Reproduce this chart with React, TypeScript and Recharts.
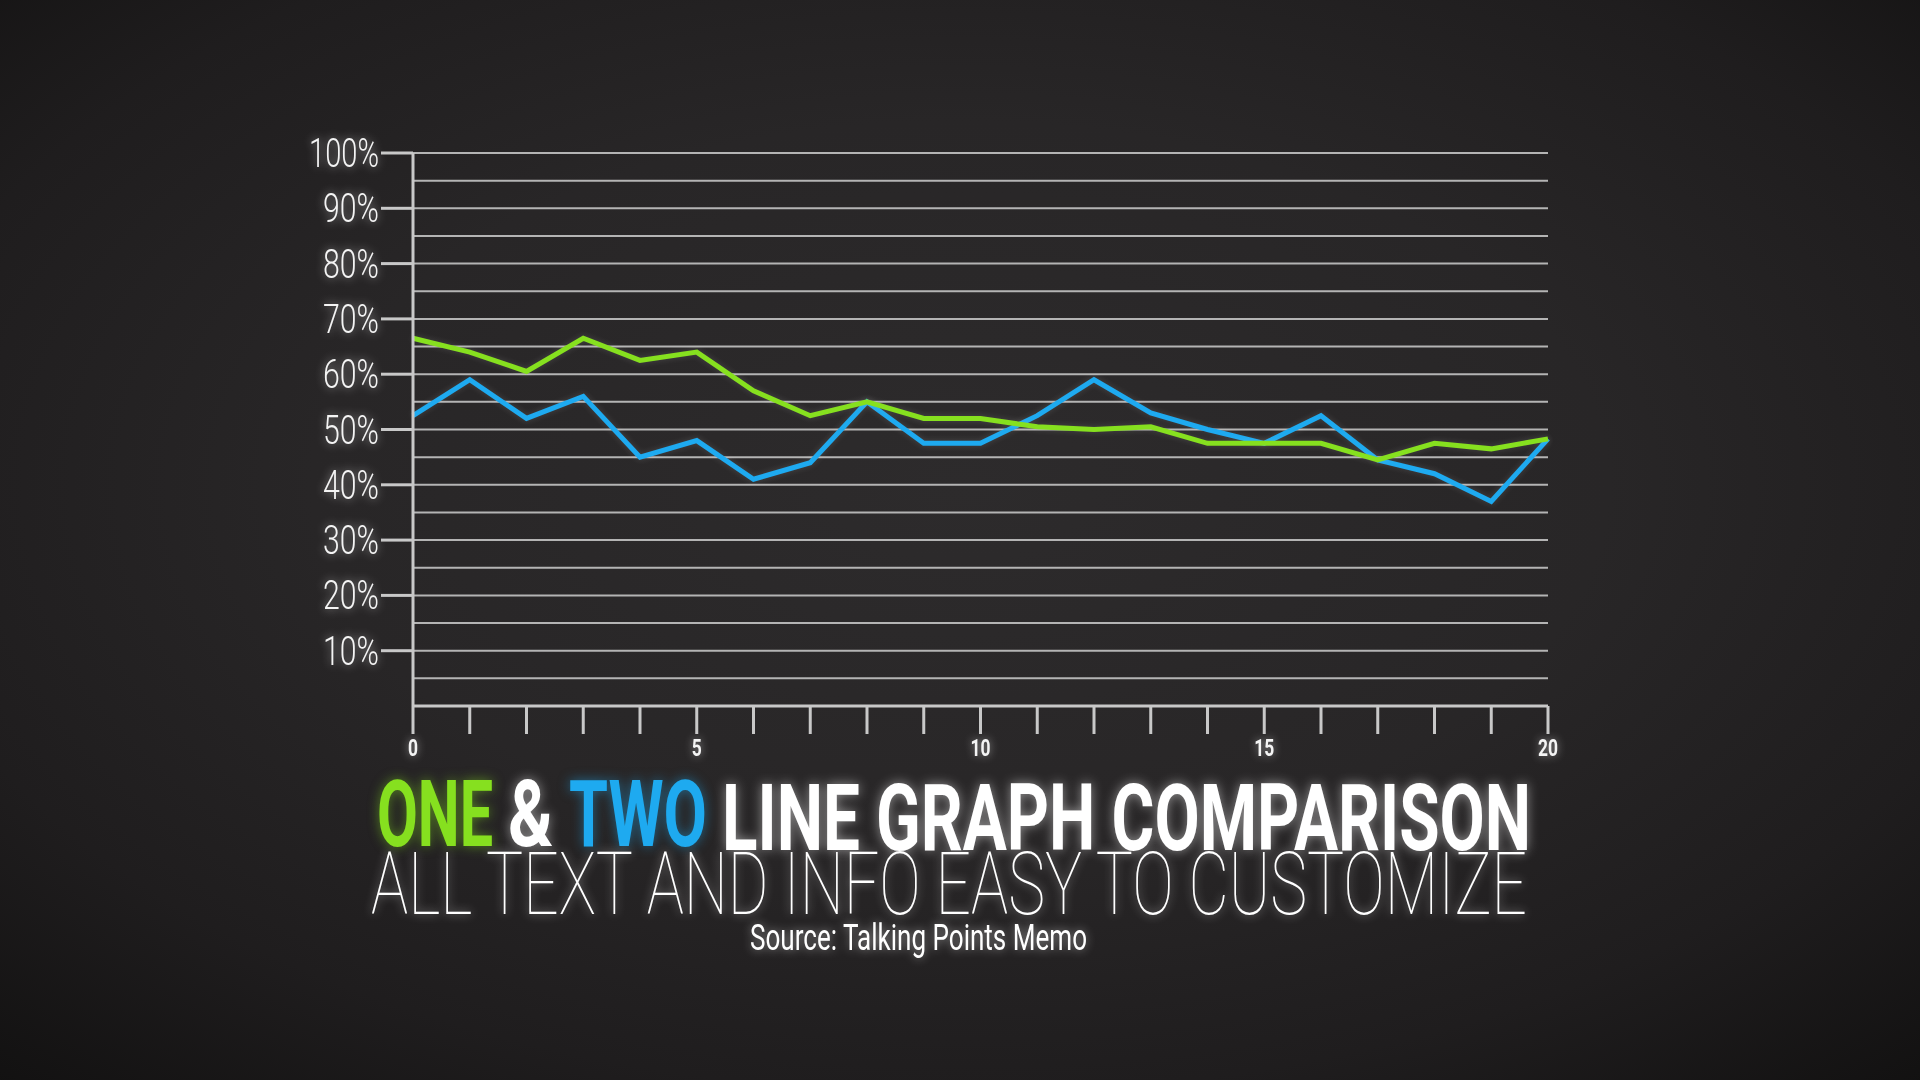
import React from 'react';
import { LineChart, Line, XAxis, YAxis, ReferenceLine } from 'recharts';

const xValues = [0, 1, 2, 3, 4, 5, 6, 7, 8, 9, 10, 11, 12, 13, 14, 15, 16, 17, 18, 19, 20];
const oneValues = [66.5, 64, 60.5, 66.5, 62.5, 64, 57, 52.5, 55, 52, 52, 50.5, 50, 50.5, 47.5, 47.5, 47.5, 44.5, 47.5, 46.5, 48.3];
const twoValues = [52.5, 59, 52, 56, 45, 48, 41, 44, 55, 47.5, 47.5, 52.5, 59, 53, 50, 47.5, 52.5, 44.5, 42, 37, 48.3];
const yTicks = [10, 20, 30, 40, 50, 60, 70, 80, 90, 100];
const gridValues = [5, 10, 15, 20, 25, 30, 35, 40, 45, 50, 55, 60, 65, 70, 75, 80, 85, 90, 95, 100];
const xLabelled = [0, 5, 10, 15, 20];

const data = xValues.map((x, i) => ({ x, one: oneValues[i], two: twoValues[i] }));

const GREEN = '#86e01f';
const BLUE = '#1eaaf0';
const GRID = '#b4b4b4';

const YTick = (props: any) => {
  const { x, y, payload } = props;
  const label = `${payload.value}%`;
  return (
    <text
      x={x}
      y={y}
      dy={14}
      textAnchor="end"
      fill="#f4f4f4"
      fontFamily="Roboto, 'Open Sans', sans-serif"
      fontWeight={300}
      fontSize={40}
      textLength={(label.length - 1) * 14 + 28}
      lengthAdjust="spacingAndGlyphs"
      style={{ filter: 'drop-shadow(0 0 5px rgba(255,255,255,0.55))' }}
    >
      {label}
    </text>
  );
};

const XTick = (props: any) => {
  const { x, y, payload } = props;
  if (!xLabelled.includes(payload.value)) return null;
  const label = String(payload.value);
  return (
    <text
      x={x}
      y={y}
      dy={18}
      textAnchor="middle"
      fill="#f4f4f4"
      fontFamily="Roboto, sans-serif"
      fontWeight={700}
      fontSize={24}
      textLength={label.length * 10}
      lengthAdjust="spacingAndGlyphs"
      style={{ filter: 'drop-shadow(0 0 4px rgba(255,255,255,0.5))' }}
    >
      {label}
    </text>
  );
};

const titleFont = "Roboto, 'Open Sans', sans-serif";

export default function App() {
  return (
    <div
      style={{
        position: 'absolute',
        left: 0,
        top: 0,
        width: 1920,
        height: 1080,
        overflow: 'hidden',
        background:
          'radial-gradient(ellipse 75% 75% at 50% 45%, #2d2b2c 0%, #282627 45%, #1f1d1e 75%, #121111 100%)',
      }}
    >
      <style>{`.recharts-line-curve{filter:drop-shadow(0 0 3px rgba(255,255,255,0.15));}`}</style>
      <div style={{ position: 'absolute', left: 0, top: 0 }}>
        <LineChart
          width={1920}
          height={1080}
          data={data}
          margin={{ top: 153, right: 372, left: 300, bottom: 314 }}
        >
          {gridValues.map((v) => (
            <ReferenceLine key={v} y={v} stroke={GRID} strokeWidth={2} />
          ))}
          <XAxis
            dataKey="x"
            type="number"
            domain={[0, 20]}
            ticks={xValues}
            interval={0}
            height={60}
            axisLine={{ stroke: '#c8c8c8', strokeWidth: 3 }}
            tickLine={{ stroke: '#c8c8c8', strokeWidth: 3 }}
            tickSize={28}
            tickMargin={4}
            tick={<XTick />}
          />
          <YAxis
            type="number"
            domain={[0, 100]}
            ticks={yTicks}
            interval={0}
            width={113}
            axisLine={{ stroke: '#c8c8c8', strokeWidth: 3 }}
            tickLine={{ stroke: '#c8c8c8', strokeWidth: 3 }}
            tickSize={32}
            tickMargin={2}
            tick={<YTick />}
          />
          <Line
            dataKey="two"
            stroke={BLUE}
            strokeWidth={5}
            dot={false}
            isAnimationActive={false}
            strokeLinejoin="miter"
          />
          <Line
            dataKey="one"
            stroke={GREEN}
            strokeWidth={5}
            dot={false}
            isAnimationActive={false}
            strokeLinejoin="miter"
          />
        </LineChart>
      </div>
      <svg width={1920} height={1080} style={{ position: 'absolute', left: 0, top: 0, pointerEvents: 'none' }}>
        <g fontFamily={titleFont} fontWeight={700} fontSize={92}>
          <text x={377} y={846} textLength={116} lengthAdjust="spacingAndGlyphs" fill={GREEN}
            style={{ filter: 'drop-shadow(0 0 6px rgba(134,224,31,0.5))' }}>ONE</text>
          <text x={508} y={846} textLength={45} lengthAdjust="spacingAndGlyphs" fill="#ffffff"
            style={{ filter: 'drop-shadow(0 0 6px rgba(255,255,255,0.5))' }}>&amp;</text>
          <text x={569} y={846} textLength={138} lengthAdjust="spacingAndGlyphs" fill={BLUE}
            style={{ filter: 'drop-shadow(0 0 6px rgba(30,170,240,0.5))' }}>TWO</text>
          <text x={722} y={850} textLength={809} lengthAdjust="spacingAndGlyphs" fill="#ffffff"
            style={{ filter: 'drop-shadow(0 0 6px rgba(255,255,255,0.5))' }}>LINE GRAPH COMPARISON</text>
        </g>
        <text x={371} y={914} textLength={1156} lengthAdjust="spacingAndGlyphs" fill="#ffffff"
          fontFamily={titleFont} fontWeight={100} fontSize={88}
          style={{ filter: 'drop-shadow(0 0 5px rgba(255,255,255,0.5))' }}>ALL TEXT AND INFO EASY TO CUSTOMIZE</text>
        <text x={750} y={950} textLength={337} lengthAdjust="spacingAndGlyphs" fill="#ffffff"
          fontFamily={titleFont} fontWeight={400} fontSize={36}
          style={{ filter: 'drop-shadow(0 0 5px rgba(255,255,255,0.5))' }}>Source: Talking Points Memo</text>
      </svg>
    </div>
  );
}
